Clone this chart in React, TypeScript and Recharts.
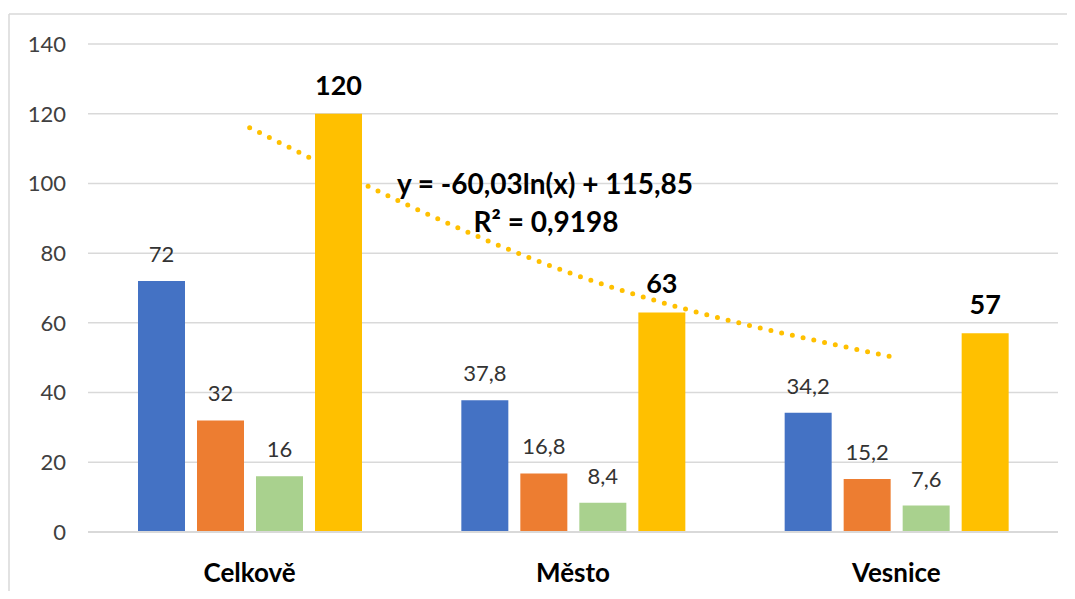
import React from "react";
import {
  ComposedChart,
  Bar,
  Line,
  XAxis,
  YAxis,
  CartesianGrid,
  LabelList,
} from "recharts";

// values
const categories = ["Celkově", "Město", "Vesnice"];
const blueValues = [72, 37.8, 34.2];
const orangeValues = [32, 16.8, 15.2];
const greenValues = [16, 8.4, 7.6];
const goldValues = [120, 63, 57];
// logarithmic trend line of the gold series, at the category centres
const trendValues = [116, 74, 50];
const yTicks = [0, 20, 40, 60, 80, 100, 120, 140];

const data = categories.map((name, i) => ({
  name,
  blue: blueValues[i],
  orange: orangeValues[i],
  green: greenValues[i],
  gold: goldValues[i],
  trend: trendValues[i],
}));

// Czech decimal comma
const fmt = (v: any) => String(v).replace(".", ",");

const App: React.FC = () => {
  return (
    <div
      style={{
        position: "relative",
        width: 1059,
        height: 583,
        fontFamily: "Lato, 'Open Sans', sans-serif",
      }}
    >
      <ComposedChart
        width={1059}
        height={583}
        data={data}
        margin={{ top: 36, right: 9, bottom: 0, left: 0 }}
        barCategoryGap={50}
        barGap={12}
      >
        <CartesianGrid vertical={false} stroke="#D9D9D9" strokeWidth={1.5} />
        <XAxis
          dataKey="name"
          height={59}
          tickLine={false}
          tickSize={0}
          tickMargin={32}
          axisLine={{ stroke: "#D9D9D9", strokeWidth: 2 }}
          tick={{ fill: "#000", fontSize: 26, fontWeight: "bold" }}
        />
        <YAxis
          width={80}
          domain={[0, 140]}
          ticks={yTicks}
          axisLine={false}
          tickLine={false}
          tickSize={0}
          tickMargin={22}
          tick={{ fill: "#404040", fontSize: 22 }}
        />
        <Line
          dataKey="trend"
          type="monotone"
          stroke="#FFC000"
          strokeWidth={5}
          strokeDasharray="0 11"
          strokeLinecap="round"
          dot={false}
          activeDot={false}
          isAnimationActive={false}
        />
        <Bar dataKey="blue" fill="#4472C4" isAnimationActive={false}>
          <LabelList dataKey="blue" position="top" offset={19} fill="#333" fontSize={22} formatter={fmt} />
        </Bar>
        <Bar dataKey="orange" fill="#ED7D31" isAnimationActive={false}>
          <LabelList dataKey="orange" position="top" offset={19} fill="#333" fontSize={22} formatter={fmt} />
        </Bar>
        <Bar dataKey="green" fill="#A9D18E" isAnimationActive={false}>
          <LabelList dataKey="green" position="top" offset={19} fill="#333" fontSize={22} formatter={fmt} />
        </Bar>
        <Bar dataKey="gold" fill="#FFC000" isAnimationActive={false}>
          <LabelList
            dataKey="gold"
            position="top"
            offset={19}
            fill="#000"
            fontSize={27}
            fontWeight="bold"
            formatter={fmt}
          />
        </Bar>
      </ComposedChart>

      {/* chart frame and trend line equation */}
      <svg
        width={1059}
        height={583}
        style={{ position: "absolute", left: 0, top: 0, overflow: "visible", pointerEvents: "none" }}
      >
        <line x1={1} y1={6} x2={1067} y2={6} stroke="#D9D9D9" strokeWidth={1.5} />
        <line x1={1} y1={6} x2={1} y2={591} stroke="#D9D9D9" strokeWidth={1.5} />
        <text x={537} y={186} textAnchor="middle" fontSize={28} fontWeight="bold" fill="#000">
          y = -60,03ln(x) + 115,85
        </text>
        <text x={538} y={224} textAnchor="middle" fontSize={28} fontWeight="bold" fill="#000">
          R² = 0,9198
        </text>
      </svg>
    </div>
  );
};

export default App;
